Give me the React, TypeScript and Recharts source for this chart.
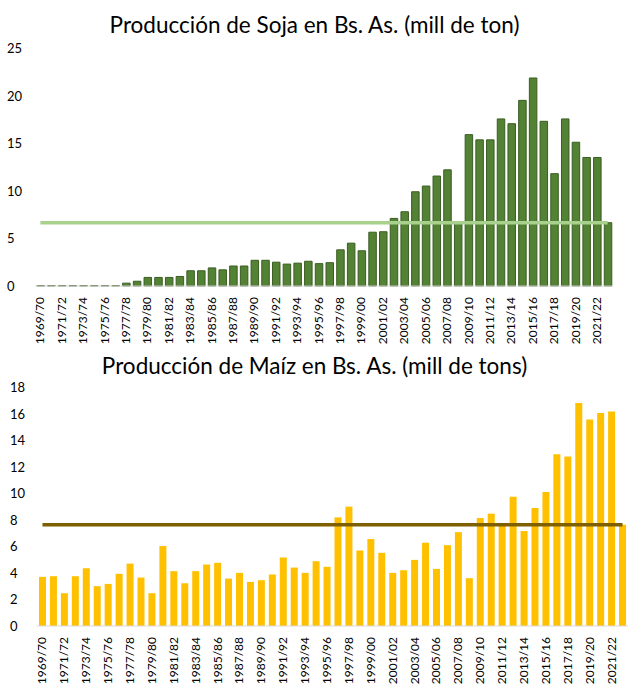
import React from "react";
import { ComposedChart, Bar, Line, XAxis, YAxis } from "recharts";

const campanias = [
  "1969/70", "1970/71", "1971/72", "1972/73", "1973/74", "1974/75", "1975/76", "1976/77",
  "1977/78", "1978/79", "1979/80", "1980/81", "1981/82", "1982/83", "1983/84", "1984/85",
  "1985/86", "1986/87", "1987/88", "1988/89", "1989/90", "1990/91", "1991/92", "1992/93",
  "1993/94", "1994/95", "1995/96", "1996/97", "1997/98", "1998/99", "1999/00", "2000/01",
  "2001/02", "2002/03", "2003/04", "2004/05", "2005/06", "2006/07", "2007/08", "2008/09",
  "2009/10", "2010/11", "2011/12", "2012/13", "2013/14", "2014/15", "2015/16", "2016/17",
  "2017/18", "2018/19", "2019/20", "2020/21", "2021/22", "2022/23",
];

// millones de toneladas
const soja = [
  0.05, 0.05, 0.05, 0.05, 0.05, 0.05, 0.05, 0.05,
  0.3, 0.5, 0.9, 0.9, 0.9, 1.0, 1.6, 1.6,
  1.9, 1.7, 2.1, 2.1, 2.7, 2.7, 2.5, 2.3,
  2.4, 2.6, 2.35, 2.45, 3.8, 4.5, 3.7, 5.65,
  5.7, 7.1, 7.8, 9.9, 10.5, 11.55, 12.2, 6.6,
  15.9, 15.35, 15.35, 17.55, 17.05, 19.5, 21.85, 17.3,
  11.8, 17.55, 15.1, 13.5, 13.5, 6.65,
];
const sojaNivel = 6.65;

const maiz = [
  3.7, 3.75, 2.47, 3.75, 4.35, 3.0, 3.17, 3.93,
  4.7, 3.65, 2.47, 6.02, 4.13, 3.22, 4.13, 4.63,
  4.76, 3.57, 4.0, 3.32, 3.45, 3.88, 5.16, 4.4,
  4.0, 4.88, 4.46, 8.18, 8.99, 5.69, 6.55, 5.51,
  4.0, 4.2, 4.98, 6.27, 4.3, 6.09, 7.07, 3.6,
  8.13, 8.46, 7.63, 9.74, 7.15, 8.89, 10.1, 12.94,
  12.76, 16.79, 15.56, 16.04, 16.16, 7.63,
];
const maizNivel = 7.63;

const sojaTicks = [0, 5, 10, 15, 20, 25];
const maizTicks = [0, 2, 4, 6, 8, 10, 12, 14, 16, 18];

const sojaData = campanias.map((c, i) => ({ c, v: soja[i], nivel: sojaNivel }));
const maizData = campanias.map((c, i) => ({ c, v: maiz[i], nivel: maizNivel }));

const FONT = "Lato, 'DejaVu Sans', sans-serif";

const makeYTick = (x0: number) => (props: any) => (
  <text x={x0} y={props.y} dy={5} textAnchor="start" fontSize={13} fill="#000" fontFamily={FONT}>
    {props.payload.value}
  </text>
);

const xTick = (props: any) => {
  const { x, y, payload } = props;
  return (
    <text
      x={x}
      y={y}
      transform={`rotate(-90 ${x} ${y})`}
      dx={-3}
      dy={4}
      textAnchor="end"
      fontSize={12}
      fill="#000"
      fontFamily={FONT}
    >
      {payload.value}
    </text>
  );
};

const Title = ({ text, top }: { text: string; top: number }) => (
  <div
    style={{
      position: "absolute",
      top,
      left: 0,
      width: 629,
      textAlign: "center",
      fontFamily: FONT,
      fontSize: 22.5,
      color: "#000",
      whiteSpace: "nowrap",
    }}
  >
    {text}
  </div>
);

export default function App() {
  return (
    <div style={{ position: "absolute", left: 0, top: 0, width: 629, height: 695, background: "#fff" }}>
      <div style={{ position: "absolute", left: 0, top: 0 }}>
        <ComposedChart
          width={629}
          height={352}
          data={sojaData}
          margin={{ top: 48, right: 16, left: 0, bottom: 0 }}
        >
          <XAxis
            dataKey="c"
            interval={1}
            tickLine={false}
            axisLine={{ stroke: "#d9d9d9" }}
            height={66}
            tick={xTick}
          />
          <YAxis
            domain={[0, 25]}
            ticks={sojaTicks}
            width={35}
            axisLine={false}
            tickLine={false}
            tick={makeYTick(7)}
          />
          <Bar dataKey="v" barSize={7.5} fill="#548235" stroke="#3a5d22" strokeWidth={1} isAnimationActive={false} />
          <Line
            dataKey="nivel"
            stroke="#a9d18e"
            strokeWidth={3.5}
            dot={false}
            activeDot={false}
            isAnimationActive={false}
          />
        </ComposedChart>
      </div>
      <Title text="Producción de Soja en Bs. As. (mill de ton)" top={11} />
      <div style={{ position: "absolute", left: 0, top: 345 }}>
        <ComposedChart
          width={629}
          height={350}
          data={maizData}
          margin={{ top: 42, right: 1, left: 0, bottom: 0 }}
        >
          <XAxis
            dataKey="c"
            interval={1}
            tickLine={false}
            axisLine={{ stroke: "#d9d9d9" }}
            height={69}
            tick={xTick}
          />
          <YAxis
            domain={[0, 18]}
            ticks={maizTicks}
            width={37}
            axisLine={false}
            tickLine={false}
            tick={makeYTick(10)}
          />
          <Bar dataKey="v" barSize={7} fill="#ffc000" isAnimationActive={false} />
          <Line
            dataKey="nivel"
            stroke="#7f6000"
            strokeWidth={3.5}
            dot={false}
            activeDot={false}
            isAnimationActive={false}
          />
        </ComposedChart>
      </div>
      <Title text="Producción de Maíz en Bs. As. (mill de tons)" top={352} />
    </div>
  );
}
